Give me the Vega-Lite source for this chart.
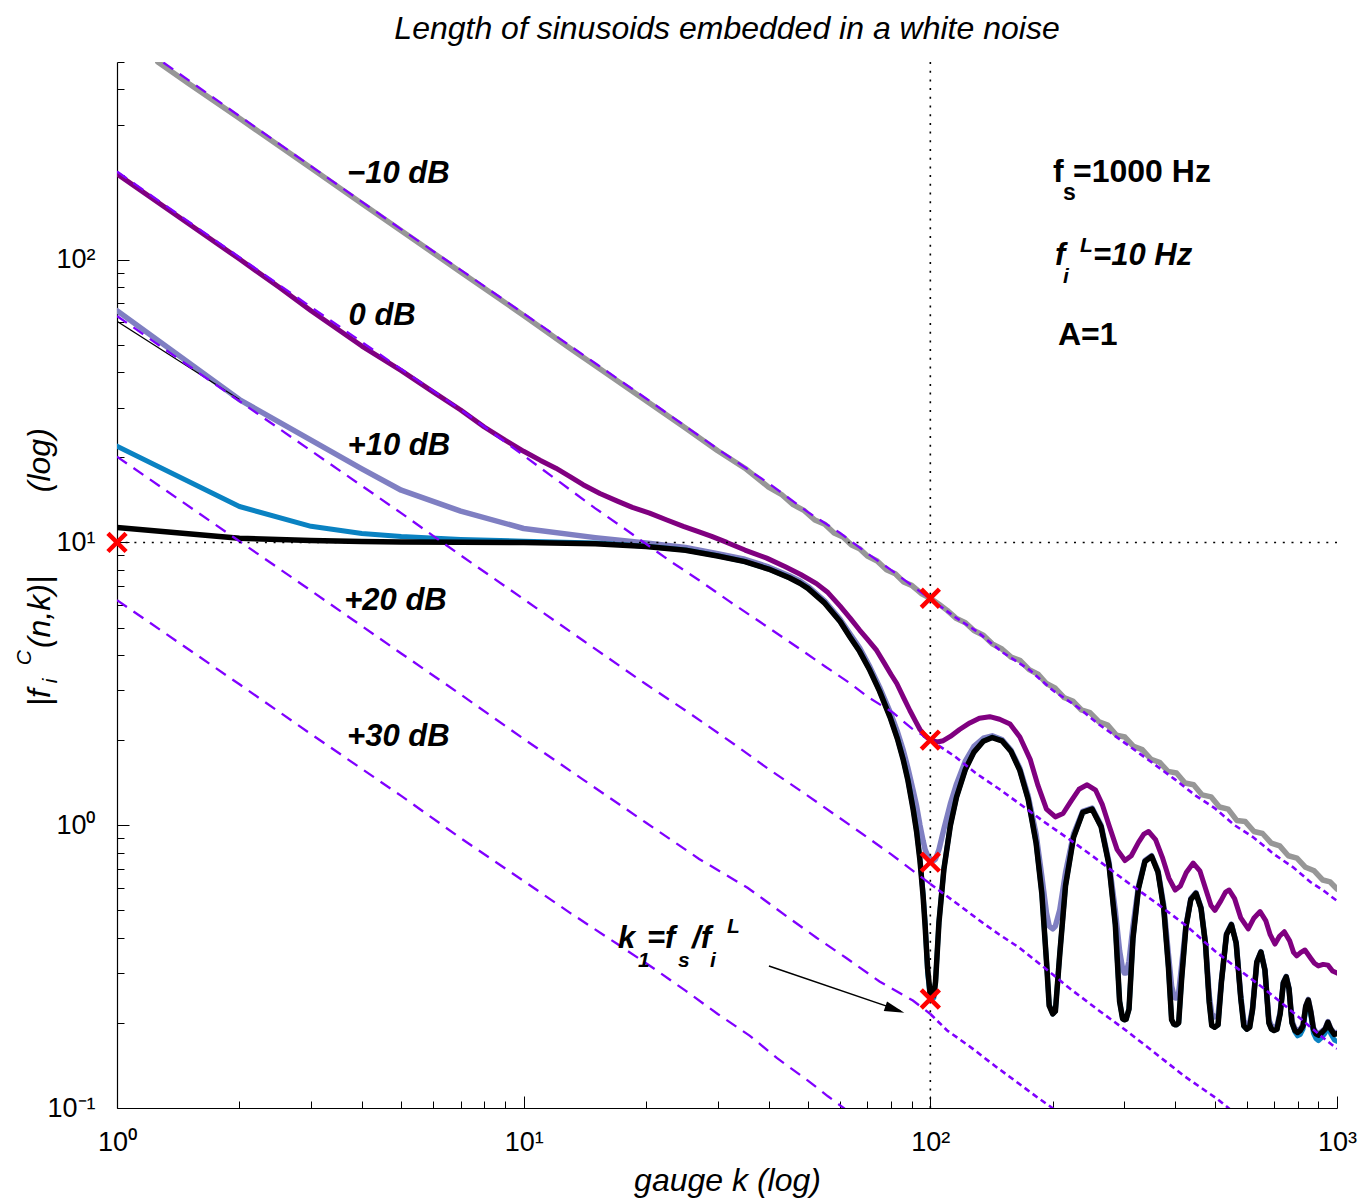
{
  "$schema": "https://vega.github.io/schema/vega-lite/v6.json",
  "width": 1220,
  "height": 1046,
  "autosize": {"type": "none"},
  "padding": {"left": 117, "top": 62, "right": 23, "bottom": 94},
  "background": "white",
  "config": {"view": {"stroke": null}, "font": "Liberation Sans"},
  "title": {"text": "Length of sinusoids embedded in a white noise", "font": "Liberation Sans", "fontSize": 32, "fontStyle": "italic", "fontWeight": "normal", "color": "black", "anchor": "middle", "baseline": "top", "offset": 15},
  "datasets": {
    "gray": [
      {"k":1.26,"v":500},{"k":1.5,"v":420},{"k":2,"v":316},{"k":3,"v":211},{"k":4,"v":158},{"k":5,"v":126.5},{"k":7,"v":90.5},{"k":10,"v":63.5},{"k":13,"v":48.6},{"k":16,"v":39.6},{"k":20,"v":31.7},{"k":25,"v":25.4},{"k":30,"v":21.1},{"k":35,"v":18.3},{"k":40,"v":15.7},{"k":43,"v":14.8},{"k":46,"v":13.6},{"k":49,"v":12.95},{"k":52,"v":12.0},{"k":55,"v":11.6},{"k":58,"v":10.8},{"k":61,"v":10.45},{"k":64,"v":9.8},{"k":67,"v":9.5},{"k":70,"v":8.95},{"k":74,"v":8.6},{"k":78,"v":8.0},{"k":82,"v":7.75},{"k":86,"v":7.25},{"k":90,"v":7.05},{"k":95,"v":6.6},{"k":100,"v":6.35},{"k":105,"v":6.05},{"k":110,"v":5.75},{"k":116,"v":5.38},{"k":122,"v":5.2},{"k":128,"v":4.88},{"k":135,"v":4.7},{"k":142,"v":4.38},{"k":150,"v":4.2},{"k":158,"v":3.93},{"k":166,"v":3.83},{"k":175,"v":3.55},{"k":184,"v":3.42},{"k":193,"v":3.17},{"k":203,"v":3.05},{"k":213,"v":2.83},{"k":224,"v":2.75},{"k":235,"v":2.56},{"k":247,"v":2.5},{"k":260,"v":2.32},{"k":273,"v":2.26},{"k":287,"v":2.08},{"k":301,"v":2.05},{"k":316,"v":1.9},{"k":332,"v":1.85},{"k":349,"v":1.71},{"k":366,"v":1.67},{"k":384,"v":1.55},{"k":403,"v":1.53},{"k":423,"v":1.41},{"k":444,"v":1.39},{"k":466,"v":1.28},{"k":490,"v":1.26},{"k":514,"v":1.16},{"k":540,"v":1.14},{"k":567,"v":1.04},{"k":595,"v":1.03},{"k":625,"v":0.95},{"k":656,"v":0.935},{"k":689,"v":0.865},{"k":723,"v":0.845},{"k":759,"v":0.78},{"k":797,"v":0.765},{"k":837,"v":0.71},{"k":879,"v":0.69},{"k":923,"v":0.64},{"k":962,"v":0.63},{"k":1000,"v":0.595}
    ],
    "purple": [
      {"k":1,"v":201},{"k":1.5,"v":134},{"k":2,"v":100.5},{"k":2.5,"v":80},{"k":3,"v":66},{"k":4,"v":49.5},{"k":5,"v":40.5},{"k":6,"v":34},{"k":7,"v":29.4},{"k":8,"v":25.6},{"k":9,"v":23},{"k":10,"v":21},{"k":11,"v":19.5},{"k":12,"v":18.3},{"k":13,"v":17.1},{"k":14,"v":16},{"k":15.4,"v":14.9},{"k":17,"v":14},{"k":18.5,"v":13.3},{"k":20.4,"v":12.7},{"k":22.5,"v":12},{"k":24.7,"v":11.4},{"k":27,"v":10.9},{"k":29,"v":10.5},{"k":31.6,"v":10},{"k":35,"v":9.4},{"k":39.6,"v":8.8},{"k":44,"v":8.2},{"k":48,"v":7.7},{"k":52.5,"v":7.15},{"k":56,"v":6.65},{"k":60,"v":5.95},{"k":63.5,"v":5.4},{"k":67,"v":4.9},{"k":70,"v":4.55},{"k":73.8,"v":4.15},{"k":77,"v":3.75},{"k":80,"v":3.42},{"k":82.7,"v":3.17},{"k":86,"v":2.82},{"k":89,"v":2.55},{"k":92,"v":2.33},{"k":94.3,"v":2.18},{"k":97,"v":2.07},{"k":100,"v":2.0},{"k":104,"v":1.97},{"k":107.6,"v":1.99},{"k":112,"v":2.06},{"k":118,"v":2.18},{"k":125,"v":2.3},{"k":132,"v":2.39},{"k":140,"v":2.42},{"k":148,"v":2.37},{"k":157,"v":2.28},{"k":166,"v":2.05},{"k":176,"v":1.71},{"k":184,"v":1.38},{"k":193,"v":1.14},{"k":203,"v":1.07},{"k":212,"v":1.1},{"k":222,"v":1.22},{"k":232,"v":1.34},{"k":243,"v":1.39},{"k":255,"v":1.33},{"k":265,"v":1.18},{"k":275,"v":1.0},{"k":288,"v":0.82},{"k":301,"v":0.75},{"k":312,"v":0.78},{"k":325,"v":0.87},{"k":335,"v":0.93},{"k":344,"v":0.95},{"k":358,"v":0.89},{"k":372,"v":0.77},{"k":386,"v":0.65},{"k":400,"v":0.59},{"k":412,"v":0.61},{"k":426,"v":0.68},{"k":443,"v":0.735},{"k":460,"v":0.69},{"k":478,"v":0.58},{"k":490,"v":0.52},{"k":501,"v":0.5},{"k":518,"v":0.54},{"k":532,"v":0.58},{"k":543,"v":0.59},{"k":560,"v":0.55},{"k":580,"v":0.47},{"k":605,"v":0.43},{"k":625,"v":0.47},{"k":647,"v":0.495},{"k":668,"v":0.46},{"k":685,"v":0.41},{"k":704,"v":0.38},{"k":722,"v":0.405},{"k":742,"v":0.42},{"k":765,"v":0.39},{"k":782,"v":0.355},{"k":796,"v":0.345},{"k":815,"v":0.355},{"k":834,"v":0.362},{"k":860,"v":0.34},{"k":880,"v":0.325},{"k":900,"v":0.318},{"k":925,"v":0.322},{"k":950,"v":0.32},{"k":975,"v":0.305},{"k":1000,"v":0.3}
    ],
    "slate": [
      {"k":1,"v":66},{"k":2,"v":32},{"k":3,"v":23},{"k":4,"v":18.2},{"k":5,"v":15.3},{"k":7,"v":12.9},{"k":10,"v":11.2},{"k":15,"v":10.4},{"k":20,"v":9.95},{"k":25,"v":9.6},{"k":30,"v":9.12},{"k":35,"v":8.72},{"k":40,"v":8.19},{"k":45,"v":7.62},{"k":47.8,"v":7.3},{"k":50,"v":6.99},{"k":55,"v":6.2},{"k":60,"v":5.35},{"k":63.5,"v":4.74},{"k":67,"v":4.24},{"k":71,"v":3.63},{"k":75,"v":3.08},{"k":79.6,"v":2.52},{"k":83,"v":2.14},{"k":85.8,"v":1.84},{"k":88,"v":1.6},{"k":90.8,"v":1.32},{"k":92.5,"v":1.17},{"k":94.3,"v":1.0},{"k":96,"v":0.88},{"k":97.1,"v":0.82},{"k":98.5,"v":0.78},{"k":100,"v":0.76},{"k":102,"v":0.75},{"k":103,"v":0.76},{"k":105,"v":0.82},{"k":108,"v":0.97},{"k":112,"v":1.19},{"k":116,"v":1.4},{"k":122,"v":1.69},{"k":128,"v":1.9},{"k":135,"v":2.03},{"k":142,"v":2.07},{"k":150,"v":2.01},{"k":158,"v":1.84},{"k":166,"v":1.59},{"k":174,"v":1.27},{"k":182,"v":0.93},{"k":188,"v":0.66},{"k":193,"v":0.49},{"k":196,"v":0.44},{"k":200,"v":0.43},{"k":203,"v":0.44},{"k":208,"v":0.5},{"k":215,"v":0.68},{"k":225,"v":0.93},{"k":237,"v":1.12},{"k":250,"v":1.15},{"k":263,"v":1.0},{"k":275,"v":0.74},{"k":285,"v":0.5},{"k":292,"v":0.36},{"k":297,"v":0.31},{"k":300,"v":0.3},{"k":303,"v":0.3},{"k":308,"v":0.33},{"k":315,"v":0.44},{"k":325,"v":0.61},{"k":337,"v":0.75},{"k":350,"v":0.78},{"k":363,"v":0.69},{"k":375,"v":0.52},{"k":385,"v":0.35},{"k":392,"v":0.27},{"k":397,"v":0.25},{"k":400,"v":0.245},{"k":403,"v":0.245},{"k":408,"v":0.255},{"k":415,"v":0.32},{"k":425,"v":0.44},{"k":437,"v":0.55},{"k":450,"v":0.578},{"k":463,"v":0.512},{"k":475,"v":0.384},{"k":485,"v":0.25},{"k":492,"v":0.215},{"k":500,"v":0.21},{"k":510,"v":0.212},{"k":520,"v":0.284},{"k":535,"v":0.413},{"k":550,"v":0.447},{"k":565,"v":0.385},{"k":580,"v":0.248},{"k":590,"v":0.203},{"k":600,"v":0.198},{"k":610,"v":0.2},{"k":620,"v":0.226},{"k":635,"v":0.329},{"k":650,"v":0.357},{"k":665,"v":0.309},{"k":680,"v":0.205},{"k":690,"v":0.195},{"k":700,"v":0.193},{"k":712,"v":0.195},{"k":725,"v":0.218},{"k":738,"v":0.278},{"k":750,"v":0.292},{"k":762,"v":0.265},{"k":775,"v":0.203},{"k":788,"v":0.191},{"k":800,"v":0.188},{"k":812,"v":0.19},{"k":825,"v":0.197},{"k":838,"v":0.23},{"k":850,"v":0.242},{"k":862,"v":0.22},{"k":875,"v":0.192},{"k":888,"v":0.185},{"k":900,"v":0.183},{"k":915,"v":0.186},{"k":935,"v":0.191},{"k":950,"v":0.202},{"k":965,"v":0.191},{"k":985,"v":0.184},{"k":1000,"v":0.185}
    ],
    "blue": [
      {"k":1,"v":21.9},{"k":2,"v":13.4},{"k":3,"v":11.4},{"k":4,"v":10.75},{"k":5,"v":10.5},{"k":7,"v":10.25},{"k":10,"v":10.1},{"k":15,"v":9.95},{"k":20,"v":9.7},{"k":25,"v":9.4},{"k":30,"v":8.97},{"k":35,"v":8.56},{"k":40,"v":8.06},{"k":45,"v":7.51},{"k":47.8,"v":7.18},{"k":50,"v":6.89},{"k":55,"v":6.11},{"k":60,"v":5.26},{"k":63.5,"v":4.63},{"k":67,"v":4.13},{"k":71,"v":3.54},{"k":75,"v":2.99},{"k":79.6,"v":2.42},{"k":83,"v":2.03},{"k":85.8,"v":1.71},{"k":88,"v":1.46},{"k":90.8,"v":1.14},{"k":92.5,"v":0.96},{"k":94.3,"v":0.76},{"k":96,"v":0.57},{"k":97.1,"v":0.45},{"k":98.5,"v":0.3},{"k":100,"v":0.243},{"k":102,"v":0.245},{"k":103,"v":0.28},{"k":105,"v":0.455},{"k":108,"v":0.702},{"k":112,"v":1.0},{"k":116,"v":1.26},{"k":122,"v":1.58},{"k":128,"v":1.815},{"k":135,"v":1.985},{"k":142,"v":2.045},{"k":150,"v":1.99},{"k":158,"v":1.825},{"k":166,"v":1.565},{"k":174,"v":1.238},{"k":182,"v":0.867},{"k":188,"v":0.576},{"k":193,"v":0.333},{"k":196,"v":0.232},{"k":200,"v":0.215},{"k":203,"v":0.22},{"k":208,"v":0.348},{"k":215,"v":0.612},{"k":225,"v":0.907},{"k":237,"v":1.111},{"k":250,"v":1.141},{"k":263,"v":0.989},{"k":275,"v":0.725},{"k":285,"v":0.447},{"k":292,"v":0.239},{"k":297,"v":0.207},{"k":300,"v":0.205},{"k":303,"v":0.206},{"k":308,"v":0.224},{"k":315,"v":0.398},{"k":325,"v":0.598},{"k":337,"v":0.744},{"k":350,"v":0.776},{"k":363,"v":0.682},{"k":375,"v":0.506},{"k":385,"v":0.315},{"k":392,"v":0.205},{"k":397,"v":0.198},{"k":400,"v":0.197},{"k":403,"v":0.197},{"k":408,"v":0.2},{"k":415,"v":0.2875},{"k":425,"v":0.435},{"k":437,"v":0.546},{"k":450,"v":0.574},{"k":463,"v":0.508},{"k":475,"v":0.379},{"k":485,"v":0.237},{"k":492,"v":0.196},{"k":500,"v":0.193},{"k":510,"v":0.197},{"k":520,"v":0.281},{"k":535,"v":0.411},{"k":550,"v":0.445},{"k":565,"v":0.383},{"k":580,"v":0.244},{"k":590,"v":0.195},{"k":600,"v":0.19},{"k":610,"v":0.193},{"k":620,"v":0.223},{"k":635,"v":0.3275},{"k":650,"v":0.356},{"k":665,"v":0.307},{"k":680,"v":0.2},{"k":690,"v":0.19},{"k":700,"v":0.188},{"k":712,"v":0.19},{"k":725,"v":0.216},{"k":738,"v":0.277},{"k":750,"v":0.291},{"k":762,"v":0.264},{"k":775,"v":0.2},{"k":788,"v":0.186},{"k":800,"v":0.18},{"k":812,"v":0.182},{"k":825,"v":0.19},{"k":838,"v":0.224},{"k":850,"v":0.236},{"k":862,"v":0.213},{"k":875,"v":0.184},{"k":888,"v":0.176},{"k":900,"v":0.173},{"k":915,"v":0.177},{"k":935,"v":0.184},{"k":950,"v":0.195},{"k":965,"v":0.183},{"k":985,"v":0.174},{"k":1000,"v":0.172}
    ],
    "black": [
      {"k":1,"v":11.3},{"k":2,"v":10.35},{"k":3,"v":10.15},{"k":4,"v":10.08},{"k":5,"v":10.04},{"k":7,"v":10.02},{"k":10,"v":10.0},{"k":15,"v":9.9},{"k":20,"v":9.68},{"k":25,"v":9.38},{"k":30,"v":8.95},{"k":35,"v":8.55},{"k":40,"v":8.05},{"k":45,"v":7.5},{"k":47.8,"v":7.17},{"k":50,"v":6.88},{"k":55,"v":6.1},{"k":60,"v":5.25},{"k":63.5,"v":4.62},{"k":67,"v":4.12},{"k":71,"v":3.53},{"k":75,"v":2.98},{"k":79.6,"v":2.41},{"k":83,"v":2.02},{"k":85.8,"v":1.7},{"k":88,"v":1.45},{"k":90.8,"v":1.13},{"k":92.5,"v":0.95},{"k":94.3,"v":0.75},{"k":96,"v":0.56},{"k":97.1,"v":0.44},{"k":98.5,"v":0.31},{"k":100,"v":0.25},{"k":102,"v":0.25},{"k":103,"v":0.28},{"k":105,"v":0.453},{"k":108,"v":0.7},{"k":112,"v":0.997},{"k":116,"v":1.258},{"k":122,"v":1.578},{"k":128,"v":1.813},{"k":135,"v":1.982},{"k":142,"v":2.042},{"k":150,"v":1.988},{"k":158,"v":1.822},{"k":166,"v":1.563},{"k":174,"v":1.236},{"k":182,"v":0.865},{"k":188,"v":0.574},{"k":193,"v":0.331},{"k":196,"v":0.23},{"k":200,"v":0.215},{"k":203,"v":0.22},{"k":208,"v":0.347},{"k":215,"v":0.611},{"k":225,"v":0.906},{"k":237,"v":1.11},{"k":250,"v":1.14},{"k":263,"v":0.988},{"k":275,"v":0.724},{"k":285,"v":0.446},{"k":292,"v":0.238},{"k":297,"v":0.207},{"k":300,"v":0.205},{"k":303,"v":0.206},{"k":308,"v":0.224},{"k":315,"v":0.398},{"k":325,"v":0.598},{"k":337,"v":0.744},{"k":350,"v":0.776},{"k":363,"v":0.682},{"k":375,"v":0.506},{"k":385,"v":0.315},{"k":392,"v":0.205},{"k":397,"v":0.198},{"k":400,"v":0.197},{"k":403,"v":0.197},{"k":408,"v":0.2},{"k":415,"v":0.2875},{"k":425,"v":0.435},{"k":437,"v":0.546},{"k":450,"v":0.574},{"k":463,"v":0.508},{"k":475,"v":0.379},{"k":485,"v":0.237},{"k":492,"v":0.196},{"k":500,"v":0.193},{"k":510,"v":0.197},{"k":520,"v":0.281},{"k":535,"v":0.411},{"k":550,"v":0.445},{"k":565,"v":0.383},{"k":580,"v":0.244},{"k":590,"v":0.195},{"k":600,"v":0.19},{"k":610,"v":0.193},{"k":620,"v":0.223},{"k":635,"v":0.3275},{"k":650,"v":0.356},{"k":665,"v":0.307},{"k":680,"v":0.2},{"k":690,"v":0.19},{"k":700,"v":0.188},{"k":712,"v":0.19},{"k":725,"v":0.216},{"k":738,"v":0.277},{"k":750,"v":0.291},{"k":762,"v":0.264},{"k":775,"v":0.2},{"k":788,"v":0.188},{"k":800,"v":0.185},{"k":812,"v":0.188},{"k":825,"v":0.195},{"k":838,"v":0.229},{"k":850,"v":0.241},{"k":862,"v":0.219},{"k":875,"v":0.19},{"k":888,"v":0.183},{"k":900,"v":0.181},{"k":915,"v":0.184},{"k":935,"v":0.19},{"k":950,"v":0.201},{"k":965,"v":0.19},{"k":985,"v":0.182},{"k":1000,"v":0.183}
    ],
    "thin": [{"k":1,"v":60.5},{"k":2,"v":32}],
    "dashedL": [
      {"s":"a","k":1.3,"v":498},{"s":"a","k":2,"v":322},{"s":"a","k":3,"v":214},{"s":"a","k":5,"v":128},{"s":"a","k":7,"v":92},{"s":"a","k":10,"v":64.5},{"s":"a","k":15,"v":43},{"s":"a","k":20,"v":32.3},{"s":"a","k":30,"v":21.4},{"s":"a","k":40,"v":16.2},{"s":"a","k":50,"v":12.8},{"s":"a","k":60,"v":10.8},{"s":"a","k":70,"v":9.15},{"s":"a","k":80,"v":8.0},{"s":"a","k":90,"v":7.05},{"s":"a","k":100,"v":6.3},
      {"s":"b","k":1,"v":205},{"s":"b","k":2,"v":102},{"s":"b","k":3,"v":68},{"s":"b","k":5,"v":41},{"s":"b","k":7,"v":29.5},{"s":"b","k":8.7,"v":23.5},{"s":"b","k":10,"v":20.3},{"s":"b","k":12.3,"v":16.3},{"s":"b","k":15,"v":13.2},{"s":"b","k":18,"v":11.0},{"s":"b","k":22.9,"v":8.6},{"s":"b","k":27,"v":7.35},{"s":"b","k":32,"v":6.2},{"s":"b","k":38,"v":5.25},{"s":"b","k":47.8,"v":4.2},{"s":"b","k":55,"v":3.65},{"s":"b","k":63,"v":3.2},{"s":"b","k":70,"v":2.85},{"s":"b","k":81,"v":2.5},{"s":"b","k":90,"v":2.2},{"s":"b","k":100,"v":2.0},
      {"s":"c","k":1,"v":63.2},{"s":"c","k":2,"v":31.6},{"s":"c","k":3,"v":21.1},{"s":"c","k":5,"v":12.7},{"s":"c","k":7,"v":9.0},{"s":"c","k":10,"v":6.3},{"s":"c","k":14,"v":4.5},{"s":"c","k":20,"v":3.15},{"s":"c","k":26,"v":2.45},{"s":"c","k":33,"v":1.93},{"s":"c","k":40,"v":1.58},{"s":"c","k":50,"v":1.27},{"s":"c","k":63.5,"v":1.0},{"s":"c","k":80,"v":0.79},{"s":"c","k":100,"v":0.62},
      {"s":"d","k":1,"v":20.1},{"s":"d","k":2,"v":10.1},{"s":"d","k":3,"v":6.75},{"s":"d","k":5,"v":4.05},{"s":"d","k":7,"v":2.9},{"s":"d","k":10,"v":2.02},{"s":"d","k":14,"v":1.45},{"s":"d","k":20,"v":1.02},{"s":"d","k":27,"v":0.76},{"s":"d","k":35.6,"v":0.6},{"s":"d","k":44,"v":0.48},{"s":"d","k":52.5,"v":0.4},{"s":"d","k":62,"v":0.34},{"s":"d","k":75,"v":0.28},{"s":"d","k":90.6,"v":0.24},{"s":"d","k":100,"v":0.215},
      {"s":"e","k":1,"v":6.25},{"s":"e","k":2,"v":3.15},{"s":"e","k":3,"v":2.1},{"s":"e","k":5,"v":1.27},{"s":"e","k":7,"v":0.9},{"s":"e","k":10,"v":0.635},{"s":"e","k":13,"v":0.49},{"s":"e","k":17,"v":0.38},{"s":"e","k":21,"v":0.31},{"s":"e","k":25,"v":0.26},{"s":"e","k":30,"v":0.215},{"s":"e","k":36,"v":0.18},{"s":"e","k":42,"v":0.15},{"s":"e","k":50,"v":0.125},{"s":"e","k":56,"v":0.11},{"s":"e","k":63,"v":0.097}
    ],
    "dashedR": [
      {"s":"a","k":100,"v":6.3},{"s":"a","k":115,"v":5.45},{"s":"a","k":130,"v":4.85},{"s":"a","k":150,"v":4.1},{"s":"a","k":175,"v":3.55},{"s":"a","k":200,"v":3.0},{"s":"a","k":230,"v":2.62},{"s":"a","k":260,"v":2.27},{"s":"a","k":300,"v":1.96},{"s":"a","k":350,"v":1.67},{"s":"a","k":400,"v":1.45},{"s":"a","k":450,"v":1.27},{"s":"a","k":500,"v":1.15},{"s":"a","k":560,"v":1.0},{"s":"a","k":620,"v":0.91},{"s":"a","k":700,"v":0.79},{"s":"a","k":780,"v":0.71},{"s":"a","k":860,"v":0.63},{"s":"a","k":930,"v":0.585},{"s":"a","k":1000,"v":0.54},
      {"s":"b","k":100,"v":2.0},{"s":"b","k":115,"v":1.75},{"s":"b","k":130,"v":1.52},{"s":"b","k":148,"v":1.34},{"s":"b","k":170,"v":1.16},{"s":"b","k":190,"v":1.03},{"s":"b","k":220,"v":0.89},{"s":"b","k":250,"v":0.78},{"s":"b","k":300,"v":0.64},{"s":"b","k":360,"v":0.53},{"s":"b","k":427,"v":0.44},{"s":"b","k":500,"v":0.36},{"s":"b","k":580,"v":0.305},{"s":"b","k":660,"v":0.265},{"s":"b","k":740,"v":0.232},{"s":"b","k":820,"v":0.205},{"s":"b","k":900,"v":0.183},{"s":"b","k":1000,"v":0.162},
      {"s":"c","k":100,"v":0.62},{"s":"c","k":118,"v":0.52},{"s":"c","k":135,"v":0.45},{"s":"c","k":148,"v":0.41},{"s":"c","k":165,"v":0.37},{"s":"c","k":190,"v":0.315},{"s":"c","k":220,"v":0.265},{"s":"c","k":261,"v":0.22},{"s":"c","k":300,"v":0.19},{"s":"c","k":350,"v":0.16},{"s":"c","k":420,"v":0.13},{"s":"c","k":506,"v":0.108},{"s":"c","k":560,"v":0.096},
      {"s":"d","k":100,"v":0.215},{"s":"d","k":110,"v":0.188},{"s":"d","k":125,"v":0.165},{"s":"d","k":145,"v":0.14},{"s":"d","k":165,"v":0.122},{"s":"d","k":185,"v":0.108},{"s":"d","k":210,"v":0.095}
    ]
  },
  "layer": [
    {
      "data": {"name": "gray"},
      "mark": {"type": "line", "color": "#979797", "strokeWidth": 5.5, "clip": true, "strokeJoin": "round", "strokeCap": "round"},
      "encoding": {
        "x": {"field": "k", "type": "quantitative", "scale": {"type": "log", "domain": [1, 1000], "nice": false},
          "axis": {"orient": "bottom", "values": [1, 10, 100, 1000], "labelExpr": "datum.value < 5 ? '10\u2070' : datum.value < 50 ? '10\u00b9' : datum.value < 500 ? '10\u00b2' : '10\u00b3'", "tickSize": -12, "tickColor": "black", "tickWidth": 1, "domainColor": "black", "domainWidth": 1.2, "grid": false, "labelFont": "Liberation Sans", "labelFontSize": 27, "labelColor": "black", "labelPadding": 33, "labelFlush": false, "labelOverlap": false, "labelBound": false, "title": "gauge k (log)", "titleFont": "Liberation Sans", "titleFontSize": 32, "titleFontStyle": "italic", "titleFontWeight": "normal", "titleColor": "black", "titleX": 610, "titleY": 82, "titleAlign": "center", "titleBaseline": "alphabetic", "titleAngle": 0}},
        "y": {"field": "v", "type": "quantitative", "scale": {"type": "log", "domain": [0.1, 500], "nice": false},
          "axis": {"orient": "left", "values": [0.1, 1, 10, 100], "labelExpr": "datum.value < 0.5 ? '10\u207b\u00b9' : datum.value < 5 ? '10\u2070' : datum.value < 50 ? '10\u00b9' : '10\u00b2'", "tickSize": -12, "tickColor": "black", "tickWidth": 1, "domainColor": "black", "domainWidth": 1.2, "grid": false, "labelFont": "Liberation Sans", "labelFontSize": 27, "labelColor": "black", "labelPadding": 34, "labelFlush": false, "labelOverlap": false, "labelBound": false, "labelAlign": "right", "labelBaseline": "middle", "title": null}}
      }
    },
    {
      "data": {"name": "purple"},
      "mark": {"type": "line", "color": "#800080", "strokeWidth": 5, "clip": true, "strokeJoin": "round", "strokeCap": "round"},
      "encoding": {
        "x": {"field": "k", "type": "quantitative", "scale": {"type": "log", "domain": [1, 1000], "nice": false},
          "axis": {"orient": "bottom", "values": [2,3,4,5,6,7,8,9,20,30,40,50,60,70,80,90,200,300,400,500,600,700,800,900], "tickSize": -7, "tickColor": "black", "tickWidth": 1, "labels": false, "domain": false, "grid": false, "title": null}},
        "y": {"field": "v", "type": "quantitative", "scale": {"type": "log", "domain": [0.1, 500], "nice": false},
          "axis": {"orient": "left", "values": [0.2,0.3,0.4,0.5,0.6,0.7,0.8,0.9,2,3,4,5,6,7,8,9,20,30,40,50,60,70,80,90,200,300,400,500], "tickSize": -7, "tickColor": "black", "tickWidth": 1, "labels": false, "domain": false, "grid": false, "title": null}}
      }
    },
    {
      "data": {"name": "slate"},
      "mark": {"type": "line", "color": "#7f7fc2", "strokeWidth": 5.5, "clip": true, "strokeJoin": "round", "strokeCap": "round"},
      "encoding": {
        "x": {"field": "k", "type": "quantitative", "scale": {"type": "log", "domain": [1, 1000], "nice": false}, "axis": null},
        "y": {"field": "v", "type": "quantitative", "scale": {"type": "log", "domain": [0.1, 500], "nice": false}, "axis": null}
      }
    },
    {
      "data": {"name": "blue"},
      "mark": {"type": "line", "color": "#0a82c2", "strokeWidth": 5, "clip": true, "strokeJoin": "round", "strokeCap": "round"},
      "encoding": {
        "x": {"field": "k", "type": "quantitative", "scale": {"type": "log", "domain": [1, 1000], "nice": false}, "axis": null},
        "y": {"field": "v", "type": "quantitative", "scale": {"type": "log", "domain": [0.1, 500], "nice": false}, "axis": null}
      }
    },
    {
      "data": {"name": "black"},
      "mark": {"type": "line", "color": "black", "strokeWidth": 5.5, "clip": true, "strokeJoin": "round", "strokeCap": "round"},
      "encoding": {
        "x": {"field": "k", "type": "quantitative", "scale": {"type": "log", "domain": [1, 1000], "nice": false}, "axis": null},
        "y": {"field": "v", "type": "quantitative", "scale": {"type": "log", "domain": [0.1, 500], "nice": false}, "axis": null}
      }
    },
    {
      "data": {"name": "thin"},
      "mark": {"type": "line", "color": "black", "strokeWidth": 1.2, "clip": true},
      "encoding": {
        "x": {"field": "k", "type": "quantitative", "scale": {"type": "log", "domain": [1, 1000], "nice": false}, "axis": null},
        "y": {"field": "v", "type": "quantitative", "scale": {"type": "log", "domain": [0.1, 500], "nice": false}, "axis": null}
      }
    },
    {
      "data": {"name": "dashedL"},
      "mark": {"type": "line", "color": "#8000ff", "strokeWidth": 2.3, "strokeDash": [12, 8], "clip": true},
      "encoding": {
        "x": {"field": "k", "type": "quantitative", "scale": {"type": "log", "domain": [1, 1000], "nice": false}, "axis": null},
        "y": {"field": "v", "type": "quantitative", "scale": {"type": "log", "domain": [0.1, 500], "nice": false}, "axis": null},
        "detail": {"field": "s"}
      }
    },
    {
      "data": {"name": "dashedR"},
      "mark": {"type": "line", "color": "#8000ff", "strokeWidth": 2.6, "strokeDash": [6, 4], "clip": true},
      "encoding": {
        "x": {"field": "k", "type": "quantitative", "scale": {"type": "log", "domain": [1, 1000], "nice": false}, "axis": null},
        "y": {"field": "v", "type": "quantitative", "scale": {"type": "log", "domain": [0.1, 500], "nice": false}, "axis": null},
        "detail": {"field": "s"}
      }
    },
    {
      "data": {"values": [{"k": 100}]},
      "mark": {"type": "rule", "color": "black", "strokeWidth": 1.6, "strokeDash": [2, 6.7]},
      "encoding": {
        "x": {"field": "k", "type": "quantitative", "scale": {"type": "log", "domain": [1, 1000], "nice": false}, "axis": null}
      }
    },
    {
      "data": {"values": [{"v": 10}]},
      "mark": {"type": "rule", "color": "black", "strokeWidth": 1.6, "strokeDash": [2, 6.7]},
      "encoding": {
        "y": {"field": "v", "type": "quantitative", "scale": {"type": "log", "domain": [0.1, 500], "nice": false}, "axis": null}
      }
    },
    {
      "data": {"values": [{"k": 40.1, "v": 0.318}, {"k": 84.5, "v": 0.2205}]},
      "mark": {"type": "line", "color": "black", "strokeWidth": 1.5},
      "encoding": {
        "x": {"field": "k", "type": "quantitative", "scale": {"type": "log", "domain": [1, 1000], "nice": false}, "axis": null},
        "y": {"field": "v", "type": "quantitative", "scale": {"type": "log", "domain": [0.1, 500], "nice": false}, "axis": null}
      }
    },
    {
      "data": {"values": [{"k": 81.8, "v": 0.2231}]},
      "mark": {"type": "point", "shape": "M-1,-0.5L1,0L-1,0.5Z", "size": 400, "filled": true, "color": "black", "opacity": 1, "angle": 19},
      "encoding": {
        "x": {"field": "k", "type": "quantitative", "scale": {"type": "log", "domain": [1, 1000], "nice": false}, "axis": null},
        "y": {"field": "v", "type": "quantitative", "scale": {"type": "log", "domain": [0.1, 500], "nice": false}, "axis": null}
      }
    },
    {
      "data": {"values": [{"k": 1, "v": 10}, {"k": 100, "v": 6.35}, {"k": 100, "v": 2.0}, {"k": 100, "v": 0.74}, {"k": 100, "v": 0.243}]},
      "mark": {"type": "point", "shape": "M-1,-1L1,1M-1,1L1,-1", "size": 330, "filled": false, "stroke": "#ff0000", "strokeWidth": 4.5, "opacity": 1},
      "encoding": {
        "x": {"field": "k", "type": "quantitative", "scale": {"type": "log", "domain": [1, 1000], "nice": false}, "axis": null},
        "y": {"field": "v", "type": "quantitative", "scale": {"type": "log", "domain": [0.1, 500], "nice": false}, "axis": null}
      }
    },
    {
      "data": {"values": [
        {"k": 3.68, "v": 186.7, "t": "\u221210 dB"},
        {"k": 3.71, "v": 58.6, "t": "0 dB"},
        {"k": 3.69, "v": 20.3, "t": "+10 dB"},
        {"k": 3.62, "v": 5.76, "t": "+20 dB"},
        {"k": 3.68, "v": 1.9, "t": "+30 dB"},
        {"k": 202.6, "v": 95.5, "t": "f"},
        {"k": 251.3, "v": 95.5, "t": "=10 Hz"},
        {"k": 17.06, "v": 0.3673, "t": "k"},
        {"k": 20.1, "v": 0.3673, "t": "=f"},
        {"k": 25.94, "v": 0.3673, "t": "/f"}
      ]},
      "mark": {"type": "text", "font": "Liberation Sans", "fontSize": 31, "fontWeight": "bold", "fontStyle": "italic", "align": "left", "baseline": "alphabetic", "color": "black"},
      "encoding": {
        "x": {"field": "k", "type": "quantitative", "scale": {"type": "log", "domain": [1, 1000], "nice": false}, "axis": null},
        "y": {"field": "v", "type": "quantitative", "scale": {"type": "log", "domain": [0.1, 500], "nice": false}, "axis": null},
        "text": {"field": "t"}
      }
    },
    {
      "data": {"values": [
        {"k": 200.3, "v": 188.3, "t": "f"},
        {"k": 224.3, "v": 188.3, "t": "=1000 Hz"},
        {"k": 206, "v": 49.8, "t": "A=1"}
      ]},
      "mark": {"type": "text", "font": "Liberation Sans", "fontSize": 32, "fontWeight": "bold", "align": "left", "baseline": "alphabetic", "color": "black"},
      "encoding": {
        "x": {"field": "k", "type": "quantitative", "scale": {"type": "log", "domain": [1, 1000], "nice": false}, "axis": null},
        "y": {"field": "v", "type": "quantitative", "scale": {"type": "log", "domain": [0.1, 500], "nice": false}, "axis": null},
        "text": {"field": "t"}
      }
    },
    {
      "data": {"values": [
        {"k": 212, "v": 82.5, "t": "i"},
        {"k": 233.3, "v": 106.2, "t": "L"},
        {"k": 19.1, "v": 0.3147, "t": "1"},
        {"k": 23.96, "v": 0.3147, "t": "s"},
        {"k": 28.72, "v": 0.3147, "t": "i"},
        {"k": 31.62, "v": 0.415, "t": "L"}
      ]},
      "mark": {"type": "text", "font": "Liberation Sans", "fontSize": 21, "fontWeight": "bold", "fontStyle": "italic", "align": "left", "baseline": "alphabetic", "color": "black"},
      "encoding": {
        "x": {"field": "k", "type": "quantitative", "scale": {"type": "log", "domain": [1, 1000], "nice": false}, "axis": null},
        "y": {"field": "v", "type": "quantitative", "scale": {"type": "log", "domain": [0.1, 500], "nice": false}, "axis": null},
        "text": {"field": "t"}
      }
    },
    {
      "data": {"values": [{"k": 212, "v": 162.2, "t": "s"}]},
      "mark": {"type": "text", "font": "Liberation Sans", "fontSize": 23, "fontWeight": "bold", "align": "left", "baseline": "alphabetic", "color": "black"},
      "encoding": {
        "x": {"field": "k", "type": "quantitative", "scale": {"type": "log", "domain": [1, 1000], "nice": false}, "axis": null},
        "y": {"field": "v", "type": "quantitative", "scale": {"type": "log", "domain": [0.1, 500], "nice": false}, "axis": null},
        "text": {"field": "t"}
      }
    },
    {
      "data": {"values": [
        {"k": 0.684, "v": 2.635, "t": "|f"},
        {"k": 0.684, "v": 4.23, "t": "(n,k)|"},
        {"k": 0.684, "v": 15.05, "t": "(log)"}
      ]},
      "mark": {"type": "text", "font": "Liberation Sans", "fontSize": 32, "fontStyle": "italic", "align": "left", "baseline": "alphabetic", "angle": 270, "color": "black"},
      "encoding": {
        "x": {"field": "k", "type": "quantitative", "scale": {"type": "log", "domain": [1, 1000], "nice": false}, "axis": null},
        "y": {"field": "v", "type": "quantitative", "scale": {"type": "log", "domain": [0.1, 500], "nice": false}, "axis": null},
        "text": {"field": "t"}
      }
    },
    {
      "data": {"values": [
        {"k": 0.712, "v": 3.177, "t": "i"},
        {"k": 0.6145, "v": 3.68, "t": "C"}
      ]},
      "mark": {"type": "text", "font": "Liberation Sans", "fontSize": 21, "fontStyle": "italic", "align": "left", "baseline": "alphabetic", "angle": 270, "color": "black"},
      "encoding": {
        "x": {"field": "k", "type": "quantitative", "scale": {"type": "log", "domain": [1, 1000], "nice": false}, "axis": null},
        "y": {"field": "v", "type": "quantitative", "scale": {"type": "log", "domain": [0.1, 500], "nice": false}, "axis": null},
        "text": {"field": "t"}
      }
    }
  ],
  "resolve": {"axis": {"x": "independent", "y": "independent"}}
}
